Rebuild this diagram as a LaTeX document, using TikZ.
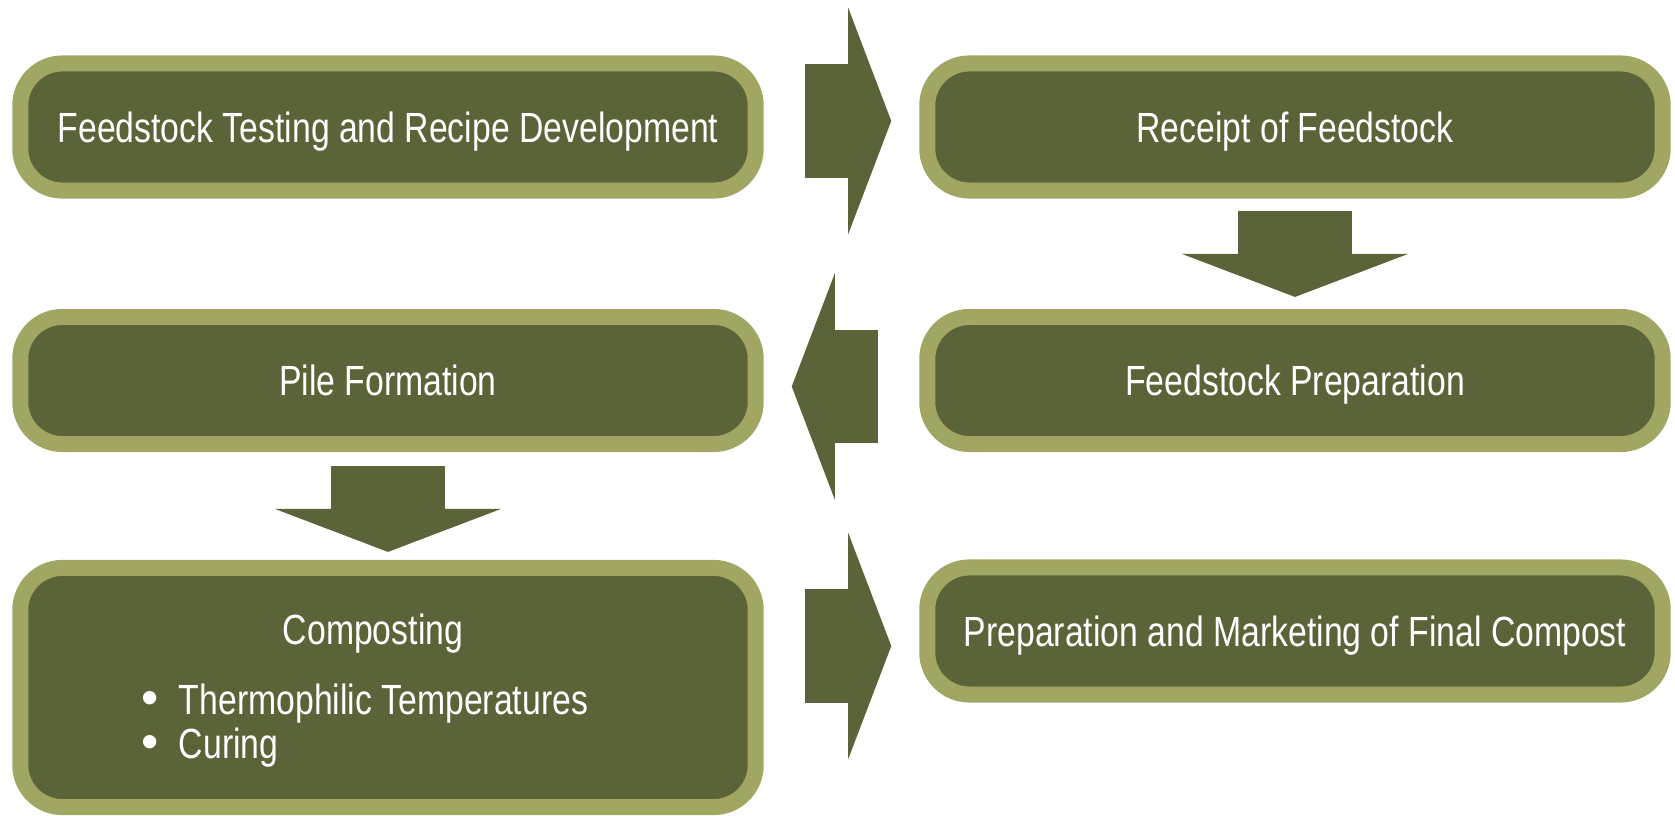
\documentclass[tikz,border=0pt]{standalone}
\usepackage{fontspec}
\setmainfont{Liberation Sans}[FakeStretch=0.8]
\newfontfamily\dotfont{Liberation Sans}
\usetikzlibrary{arrows.meta}

\definecolor{olivedark}{HTML}{5A6438}
\definecolor{olivelight}{HTML}{A2A663}

\newcommand{\bulletmark}{{\dotfont\fontsize{14}{13}\selectfont\textbullet}\hspace{0.2cm}}

\begin{document}
\begin{tikzpicture}[x=0.01cm, y=-0.01cm,
        stage/.style={draw=olivelight, fill=olivedark, line width=0.16cm, rounded corners=0.42cm,
            minimum width=7.35cm, minimum height=1.27cm, inner sep=0pt,
            text=white, font=\fontsize{12}{13}\selectfont, text height=8.6pt, text depth=0pt},
        itemtext/.style={text=white, font=\fontsize{12}{13}\selectfont, inner sep=0pt},
        flow/.style={color=olivedark, line width=1.13cm,
            -{Triangle[width=2.26cm, length=0.43cm, line width=0pt]},
            shorten <=0.41cm, shorten >=0.28cm}]
        \useasboundingbox (0,0) rectangle (1675,816);

        % Boxes
        \node[stage] (test) at (388, 127) {Feedstock Testing and Recipe Development};
        \node[stage] (receipt) at (1295, 127) {Receipt of Feedstock};
        \node[stage] (pile) at (388, 380.5) {Pile Formation};
        \node[stage] (prep) at (1295, 380.5) {Feedstock Preparation};
        \node[stage, minimum height=2.39cm] (compost) at (388, 687.5) {};
        \node[stage] (market) at (1295, 631) {Preparation and Marketing of Final Compost};

        % Text of the composting box
        \node[itemtext, anchor=base] (title) at (373, 645) {Composting};
        \node[itemtext, anchor=base west] (thermo) at (141, 715) {\bulletmark Thermophilic Temperatures};
        \node[itemtext, anchor=base west] (curing) at (141, 759) {\bulletmark Curing};

        % Arrows
        \draw[flow] ([yshift=0.06cm]test.east) -- ([yshift=0.06cm]receipt.west);
        \draw[flow, shorten <=0.12cm, shorten >=0.12cm] (receipt.south) -- (prep.north);
        \draw[flow] ([yshift=-0.06cm]prep.west) -- ([yshift=-0.06cm]pile.east);
        \draw[flow, shorten <=0.14cm, shorten >=0.08cm] (pile.south) -- (compost.north);
        \draw[flow] (compost.east |- 0,646) -- (market.west |- 0,646);
    \end{tikzpicture}
\end{document}
